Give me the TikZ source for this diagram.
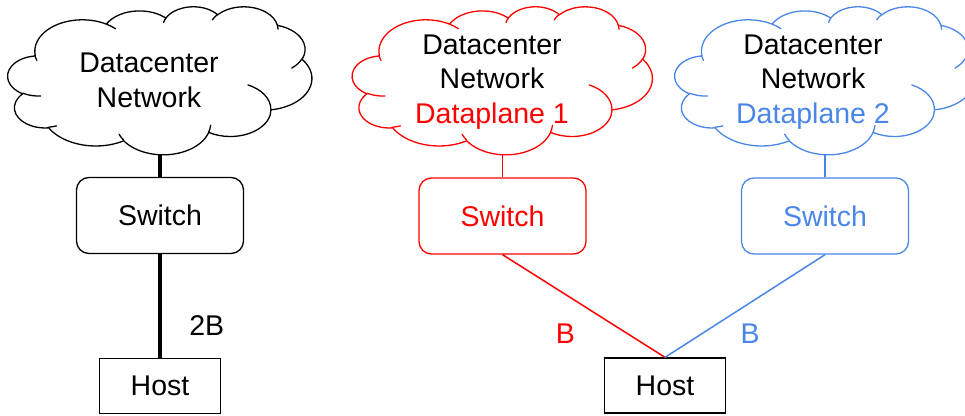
\documentclass[tikz,border=0pt]{standalone}
\usepackage{fontspec}
\setmainfont{Liberation Sans}
\definecolor{planered}{HTML}{FF0000}
\definecolor{planeblue}{HTML}{4A86E8}

% One elliptical arc of the cloud outline: x radius, y radius,
% start angle and sweep given as angles seen from the ellipse centre.
\newcommand\cldarc[4]{%
  arc[x radius=#1, y radius=#2,
      start angle={atan2(#1*sin(#3),#2*cos(#3))},
      delta angle={Mod(atan2(#1*sin(#3+#4),#2*cos(#3+#4))-atan2(#1*sin(#3),#2*cos(#3)),360)}]}

% Cloud outline drawn in a 432 x 432 frame fitted onto a node's box
\newcommand\cloudoutline[3]{% node, colour, x scale
  \begin{scope}[shift={(#1.north west)}, x=#3pt, y=-0.342593pt,
                line width=1.3pt, line join=round, line cap=round]
    \draw[#2] (39.00,143.70)
      \cldarc{67.53}{91.90}{-190.48748}{123.78053}
      \cldarc{53.33}{72.67}{-144.10238}{89.94523}
      \cldarc{43.65}{59.45}{-145.80792}{99.72302}
      \cldarc{48.57}{65.95}{-130.98607}{117.24173}
      \cldarc{53.33}{72.73}{-78.70888}{109.02692}
      \cldarc{67.75}{92.20}{-46.26725}{130.26900}
      \cldarc{57.85}{78.67}{0.62502}{114.03333}
      \cldarc{67.52}{92.15}{22.45160}{115.17255}
      \cldarc{77.20}{105.43}{66.24263}{75.71102}
      \cldarc{43.60}{59.18}{-274.94208}{146.73557}
      \cldarc{43.45}{59.45}{-246.82850}{152.51885}
      -- cycle;
    \draw[#2]
      (46.93,261.77) \cldarc{43.45}{59.45}{86.74200}{26.42950}
      (69.28,348.99) \cldarc{43.60}{59.18}{73.61047}{11.44747}
      (164.78,390.90) \cldarc{67.52}{92.15}{137.62415}{14.08110}
      (288.27,347.51) \cldarc{67.52}{92.15}{6.45327}{15.99835}
      (341.29,229.54) \cldarc{57.85}{78.67}{-70.29235}{70.91737}
      (417.98,153.54) \cldarc{53.33}{72.73}{30.31803}{27.75150}
      (383.24,54.26) \cldarc{48.57}{65.95}{-13.74433}{14.85890}
      (290.78,39.52) \cldarc{48.57}{65.95}{-149.18145}{18.19537}
      (221.41,47.20) \cldarc{43.65}{59.45}{-163.49427}{17.68635}
      (140.00,51.92) \cldarc{67.53}{91.90}{-66.70695}{12.31935}
      (41.27,157.89) \cldarc{67.53}{91.90}{153.58680}{11.85160};
  \end{scope}}

\tikzset{
  txt/.style={font=\fontsize{28.5}{34.5}\selectfont, text=black},
  cloudbox/.style={shape=rectangle, inner sep=0pt, minimum height=148pt},
  cloudlabel/.style={txt, inner sep=0pt, align=center},
  switchbox/.style={txt, draw=black, line width=1.3pt, rounded corners=12.5pt,
                    minimum width=167pt, minimum height=76pt, inner sep=0pt},
  hostbox/.style={txt, draw=black, line width=1.3pt,
                  minimum width=121pt, minimum height=55pt, inner sep=0pt},
  linklabel/.style={txt, inner sep=0pt},
  fatlink/.style={draw=black, line width=4.5pt},
  redlink/.style={draw=planered, line width=1.5pt},
  bluelink/.style={draw=planeblue, line width=1.5pt}
}

\begin{document}
\begin{tikzpicture}[x=1pt, y=-1pt]
  \useasboundingbox (0,0) rectangle (965,415);
  \clip (0,0) rectangle (965,415);

  % networks
  \node[cloudbox, minimum width=304pt] (dcn) at (160,80.5) {};
  \node[cloudbox, minimum width=300pt] (dp1) at (502.5,80.5) {};
  \node[cloudbox, minimum width=300pt] (dp2) at (825,80.5) {};
  \node[cloudlabel] (dcntext) at ([xshift=-11pt]dcn.center) {Datacenter\\Network};
  \node[cloudlabel] (dp1text) at ([xshift=-10.5pt,yshift=-1.5pt]dp1.center)
    {Datacenter\\Network\\\textcolor{planered}{Dataplane 1}};
  \node[cloudlabel] (dp2text) at ([xshift=-12pt,yshift=-1.5pt]dp2.center)
    {Datacenter\\Network\\\textcolor{planeblue}{Dataplane 2}};
  \cloudoutline{dcn}{black}{0.703704}
  \cloudoutline{dp1}{planered}{0.694444}
  \cloudoutline{dp2}{planeblue}{0.694444}

  % switches
  \node[switchbox] (sw0) at (160,215.5) {Switch};
  \node[switchbox, draw=planered, text=planered] (sw1) at (502.5,216) {Switch};
  \node[switchbox, draw=planeblue, text=planeblue] (sw2) at (825,216) {Switch};

  % hosts
  \node[hostbox] (h0) at (160,386) {Host};
  \node[hostbox] (h1) at (665,385.5) {Host};

  % links
  \draw[fatlink] (dcn.south) -- (sw0.north);
  \draw[fatlink] (sw0.south) -- node[linklabel, pos=0.69, right=27pt] {2B} (h0.north);
  \draw[redlink] (dp1.south) -- (sw1.north);
  \draw[redlink] (sw1.south) -- node[linklabel, text=planered, pos=0.77, left=52pt] {B} (h1.north);
  \draw[bluelink] (dp2.south) -- (sw2.north);
  \draw[bluelink] (sw2.south) -- node[linklabel, text=planeblue, pos=0.77, right=38pt] {B} (h1.north);
\end{tikzpicture}
\end{document}
